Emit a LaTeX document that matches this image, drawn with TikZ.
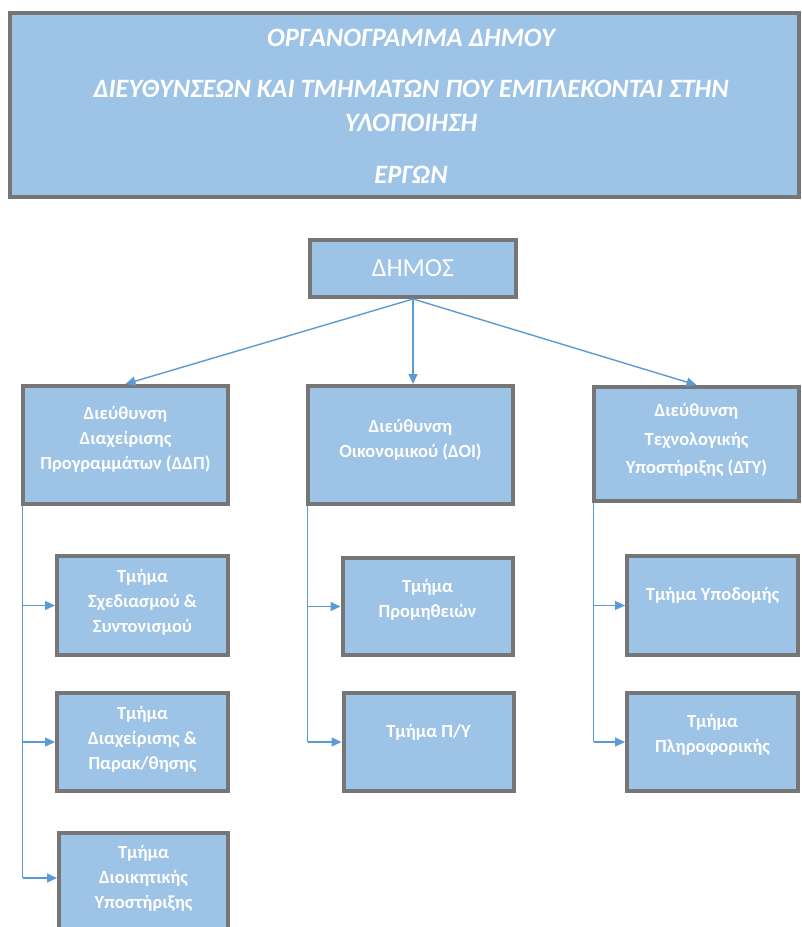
\documentclass[tikz,border=0pt]{standalone}
\usepackage{fontspec}
\setmainfont{Carlito}
\usetikzlibrary{arrows.meta,calc}
\definecolor{boxfill}{RGB}{157,195,230}
\definecolor{boxline}{RGB}{118,118,118}
\definecolor{linkblue}{RGB}{91,155,213}
\begin{document}
\begin{tikzpicture}[x=1pt,y=-1pt,
  box/.style={draw=boxline, line width=4pt, fill=boxfill, rectangle,
    inner sep=0pt, outer sep=2pt},
  boxtext/.style={text=white, align=center, inner sep=0pt,
    font=\fontsize{18.5}{25}\selectfont\bfseries},
  titletext/.style={text=white, inner sep=0pt,
    font=\fontsize{26.5}{30}\selectfont\bfseries\itshape},
  conn/.style={draw=linkblue, line width=1.4pt},
  connarrow/.style={conn, -{Triangle[length=10pt,width=9pt]}},
]
\clip (0,0) rectangle (802,927);
\fill[white] (0,0) rectangle (802,927);

% heading panel
\node[box, minimum width=789, minimum height=184] (title) at (404.5,105) {};
\node[titletext] (t1) at (411,38) {ΟΡΓΑΝΟΓΡΑΜΜΑ ΔΗΜΟΥ};
\node[titletext] (t2) at (411,89) {ΔΙΕΥΘΥΝΣΕΩΝ ΚΑΙ ΤΜΗΜΑΤΩΝ ΠΟΥ ΕΜΠΛΕΚΟΝΤΑΙ ΣΤΗΝ};
\node[titletext] (t3) at (411,123) {ΥΛΟΠΟΙΗΣΗ};
\node[titletext] (t4) at (411,175) {ΕΡΓΩΝ};

% municipality
\node[box, minimum width=206, minimum height=57, text=white,
  font=\fontsize{26}{32}\selectfont] (top) at (413,268.5) {ΔΗΜΟΣ};

% directorates
\node[box, minimum width=205, minimum height=118] (d1) at (125.5,445) {};
\node[boxtext] (d1t) at (125.5,439) {Διεύθυνση\\Διαχείρισης\\Προγραμμάτων (ΔΔΠ)};
\node[box, minimum width=205, minimum height=118] (d2) at (410.5,445) {};
\node[boxtext] (d2t) at (410.5,439.5) {Διεύθυνση\\Οικονομικού (ΔΟΙ)};
\node[box, minimum width=205, minimum height=114] (d3) at (696.5,444) {};
\node[boxtext, font=\fontsize{18.5}{28.5}\selectfont\bfseries] (d3t) at (696.5,440)
  {Διεύθυνση\\Τεχνολογικής\\Υποστήριξης (ΔΤΥ)};

% departments
\node[box, minimum width=171, minimum height=99] (s11) at (142.5,605.5) {};
\node[boxtext] (s11t) at (142.5,602) {Τμήμα\\Σχεδιασμού \&\\Συντονισμού};
\node[box, minimum width=171, minimum height=98] (s12) at (142.5,742) {};
\node[boxtext] (s12t) at (142.5,739) {Τμήμα\\Διαχείρισης \&\\Παρακ/θησης};
\node[box, minimum width=169, minimum height=120] (s13) at (143.5,893) {};
\node[boxtext] (s13t) at (143.5,878.5) {Τμήμα\\Διοικητικής\\Υποστήριξης};

\node[box, minimum width=170, minimum height=97] (s21) at (427.5,606.5) {};
\node[boxtext] (s21t) at (427.5,599.5) {Τμήμα\\Προμηθειών};
\node[box, minimum width=170, minimum height=98] (s22) at (428.5,742) {};
\node[boxtext] (s22t) at (428.5,732) {Τμήμα Π/Υ};

\node[box, minimum width=171, minimum height=99] (s31) at (712.5,605.5) {};
\node[boxtext] (s31t) at (712.5,595) {Τμήμα Υποδομής};
\node[box, minimum width=171, minimum height=98] (s32) at (712.5,742) {};
\node[boxtext] (s32t) at (712.5,734.5) {Τμήμα\\Πληροφορικής};

% links from the municipality
\draw[connarrow] (top.south) -- (d1.north);
\draw[connarrow] (top.south) -- (top.south |- d2.north);
\draw[connarrow] (top.south) -- (d3.north);

% spines down the left side of each directorate
\coordinate (v1) at ([xshift=1.5pt]d1.south west);
\coordinate (v2) at ([xshift=1.5pt]d2.south west);
\coordinate (v3) at ([xshift=1.5pt]d3.south west);
\coordinate (a13) at (0,878);

\draw[conn] (v1) -- (v1 |- a13);
\draw[connarrow] (v1 |- s11.west) -- (s11.west);
\draw[connarrow] (v1 |- s12.west) -- (s12.west);
\draw[connarrow] (v1 |- a13) -- (s13.west |- a13);

\draw[conn] (v2) -- (v2 |- s22.west);
\draw[connarrow] (v2 |- s21.west) -- (s21.west);
\draw[connarrow] (v2 |- s22.west) -- (s22.west);

\draw[conn] (v3) -- (v3 |- s32.west);
\draw[connarrow] (v3 |- s31.west) -- (s31.west);
\draw[connarrow] (v3 |- s32.west) -- (s32.west);
\end{tikzpicture}
\end{document}
